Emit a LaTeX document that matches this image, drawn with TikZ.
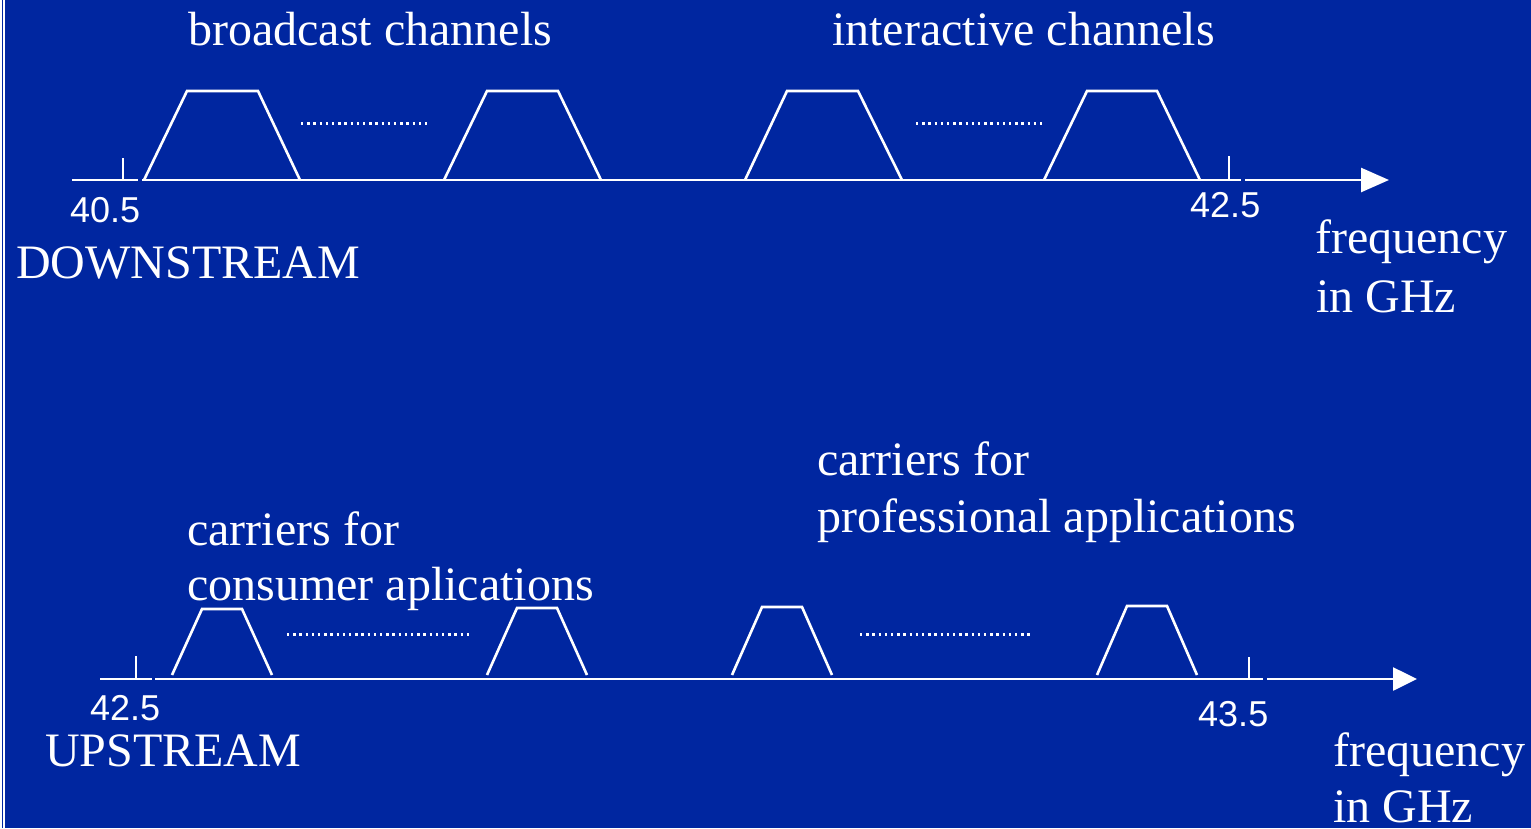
\documentclass[tikz,border=0pt]{standalone}
\usepackage{fontspec}
\setmainfont{Liberation Serif}
\newfontfamily\numfont{Liberation Sans}
\usetikzlibrary{arrows.meta}
\definecolor{bgblue}{RGB}{0,38,160}
\tikzset{
  lbl/.style={anchor=base west,inner sep=0pt,text=white,font=\fontsize{48}{58}\selectfont,align=left},
  num/.style={anchor=base west,inner sep=0pt,text=white,font=\numfont\fontsize{36}{42}\selectfont},
  band/.style={draw=white,line width=2.6pt,line join=miter},
  axisline/.style={draw=white,line width=2.6pt},
  ticky/.style={draw=white,line width=2pt},
  dots/.style={draw=white,line width=2.6pt,dash pattern=on 2.4pt off 3.8pt},
  arrowline/.style={draw=white,line width=2.6pt,-{Triangle[length=28pt,width=24pt]}}
}
\begin{document}
\begin{tikzpicture}[x=1pt,y=-1pt]
\useasboundingbox (0,0) rectangle (1531,828);
\fill[bgblue] (0,0) rectangle (1531,828);
\fill[white] (0,0) rectangle (4.7,828);
\draw[bgblue,line width=0.8pt] (2.3,0) -- (2.3,828);

% ---------- DOWNSTREAM ----------
\coordinate (d0) at (72,180);
\coordinate (d1) at (138,180);
\coordinate (d2) at (142,180);
\coordinate (d3) at (1241,180);
\coordinate (d4) at (1245,180);
\coordinate (d5) at (1389,180);
\path[axisline] (d0) -- (d1);
\path[axisline] (d2) -- (d3);
\path[arrowline] (d4) -- (d5);
\path[ticky] (123,158) -- (123,180);
\path[ticky] (1229,156) -- (1229,180);

\path[band] (144,180) -- (187,91) -- (258,91) -- (300,180);
\path[band] (444,180) -- (487,91) -- (558,91) -- (601,180);
\path[band] (745,180) -- (787,91) -- (858,91) -- (902,180);
\path[band] (1044,180) -- (1087,91) -- (1157,91) -- (1200,180);
\path[dots] (301,123.5) -- (430,123.5);
\path[dots] (916,123.5) -- (1044,123.5);

\node[lbl] (bc) at (188,45) {broadcast channels};
\node[lbl] (ic) at (832,45) {interactive channels};
\node[num] (n405) at (70,222) {40.5};
\node[num] (n425a) at (1190,217) {42.5};
\node[lbl] (ds) at (16,278) {DOWNSTREAM};
\node[lbl] (f1) at (1315,253) {frequency};
\node[lbl] (g1) at (1316,312) {in GHz};

% ---------- UPSTREAM ----------
\coordinate (u0) at (100,679);
\coordinate (u1) at (152,679);
\coordinate (u2) at (155,679);
\coordinate (u3) at (1263,679);
\coordinate (u4) at (1267,679);
\coordinate (u5) at (1417,679);
\path[axisline] (u0) -- (u1);
\path[axisline] (u2) -- (u3);
\path[arrowline,-{Triangle[length=24pt,width=23pt]}] (u4) -- (u5);
\path[ticky] (136,656) -- (136,679);
\path[ticky] (1249,657) -- (1249,679);

\path[band] (172,675) -- (202,609) -- (242,609) -- (272,675);
\path[band] (487,675) -- (517,608) -- (557,608) -- (587,675);
\path[band] (732,675) -- (762,607) -- (802,607) -- (832,675);
\path[band] (1097,675) -- (1127,606) -- (1167,606) -- (1197,675);
\path[dots] (287,634.5) -- (472,634.5);
\path[dots] (860,634.5) -- (1030,634.5);

\node[lbl] (c1) at (187,545) {carriers for};
\node[lbl] (c2) at (187,600) {consumer aplications};
\node[lbl] (p1) at (817,475) {carriers for};
\node[lbl] (p2) at (817,532) {professional applications};
\node[num] (n425b) at (90,720) {42.5};
\node[num] (n435) at (1198,726) {43.5};
\node[lbl] (us) at (45,766) {UPSTREAM};
\node[lbl] (f2) at (1333,766) {frequency};
\node[lbl] (g2) at (1333,822) {in GHz};
\end{tikzpicture}
\end{document}
